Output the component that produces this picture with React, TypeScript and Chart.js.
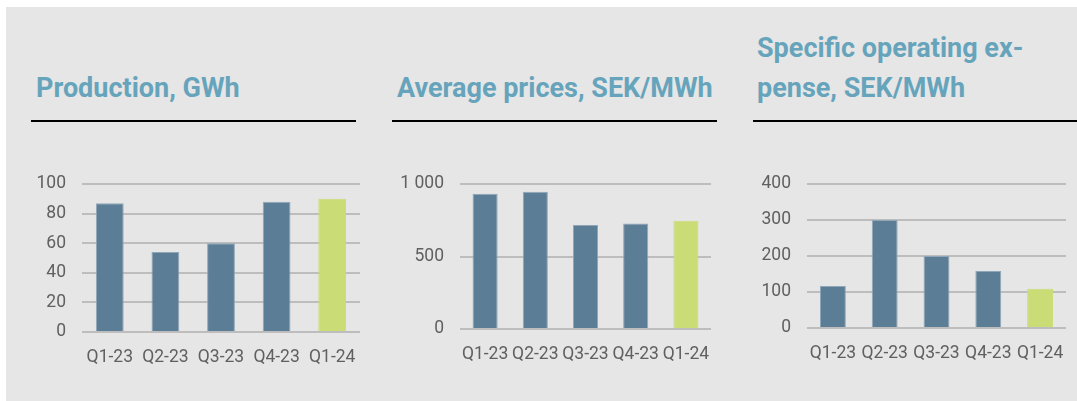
import React, { useEffect, useRef } from "react";
import { Chart, registerables } from "chart.js";

Chart.register(...registerables);

const categories = ["Q1-23", "Q2-23", "Q3-23", "Q4-23", "Q1-24"];
const productionGWh = [87, 54, 60, 88, 90];
const averagePrices = [933, 947, 717, 728, 746];
const operatingExpense = [117, 300, 200, 158, 109];

const productionTicks = [0, 20, 40, 60, 80, 100];
const pricesTicks = [0, 500, 1000];
const expenseTicks = [0, 100, 200, 300, 400];

const titles = ["Production, GWh", "Average prices, SEK/MWh", "Specific operating ex-\npense, SEK/MWh"];

const BLUE = "#5b7d96";
const GREEN = "#cadc75";
const TITLE_COLOR = "#66a4bc";
const TICK_COLOR = "#606060";
const GRID_COLOR = "#bdbdbd";
const FONT = "Roboto, 'Liberation Sans', sans-serif";

const fmtSpace = (v: number) => String(v).replace(/\B(?=(\d{3})+(?!\d))/g, "\u00a0");

type Props = {
  values: number[];
  ticks: number[];
  left: number;
  top: number;
  width: number;
  height: number;
  axisWidth: number;
  padTop: number;
  padRight: number;
  xAxisHeight: number;
};

function BarChart(p: Props) {
  const ref = useRef<HTMLCanvasElement | null>(null);
  useEffect(() => {
    if (!ref.current) return;
    const n = p.values.length;
    const colors = p.values.map((_, i) => (i === n - 1 ? GREEN : BLUE));
    const borders = p.values.map((_, i) => (i === n - 1 ? GREEN : "#8fa6b8"));
    const max = p.ticks[p.ticks.length - 1];
    const chart = new Chart(ref.current, {
      type: "bar",
      data: {
        labels: categories,
        datasets: [
          {
            data: p.values,
            backgroundColor: colors,
            borderColor: borders,
            borderWidth: 1,
            barPercentage: 0.5,
            categoryPercentage: 1,
          },
        ],
      },
      options: {
        animation: false,
        responsive: false,
        maintainAspectRatio: false,
        layout: { padding: { top: p.padTop, right: p.padRight, left: 0, bottom: 0 } },
        plugins: { legend: { display: false }, tooltip: { enabled: false }, title: { display: false } },
        scales: {
          x: {
            grid: { display: false, drawTicks: false },
            border: { display: false },
            ticks: {
              color: TICK_COLOR,
              font: { family: FONT, size: 17.5, weight: 400 as any },
              padding: 15,
              maxRotation: 0,
              autoSkip: false,
            },
            afterFit: (s: any) => {
              s.height = p.xAxisHeight;
              s.paddingLeft = 0;
              s.paddingRight = 0;
            },
          },
          y: {
            min: 0,
            max: max,
            afterBuildTicks: (s: any) => {
              s.ticks = p.ticks.map((v) => ({ value: v }));
            },
            grid: { color: GRID_COLOR, lineWidth: 2, drawTicks: false },
            border: { display: false },
            ticks: {
              color: TICK_COLOR,
              font: { family: FONT, size: 17.5, weight: 400 as any },
              padding: 16,
              callback: (v: any) => fmtSpace(Number(v)),
            },
            afterFit: (s: any) => {
              s.width = p.axisWidth;
              s.paddingTop = 0;
              s.paddingBottom = 0;
            },
          },
        },
      },
    });
    return () => chart.destroy();
  }, []);
  return (
    <canvas
      ref={ref}
      width={p.width}
      height={p.height}
      style={{ position: "absolute", left: p.left, top: p.top, width: p.width, height: p.height }}
    />
  );
}

function Title({ text, left, top }: { text: string; left: number; top: number }) {
  return (
    <div
      style={{
        position: "absolute",
        left,
        top,
        fontFamily: FONT,
        fontWeight: 700,
        fontSize: 27,
        lineHeight: "40px",
        color: TITLE_COLOR,
        whiteSpace: "pre",
      }}
    >
      {text}
    </div>
  );
}

function Rule({ left, width }: { left: number; width: number }) {
  return <div style={{ position: "absolute", left, top: 120, width, height: 2, background: "#000" }} />;
}

export default function App() {
  useEffect(() => {
    document.body.style.margin = "0";
  }, []);
  return (
    <div style={{ position: "absolute", left: 0, top: 0, width: 1077, height: 401, background: "#fff", overflow: "hidden" }}>
      <div style={{ position: "absolute", left: 6, top: 7, width: 1071, height: 394, background: "#e6e6e6" }} />
      <Title text={titles[0]} left={36} top={68} />
      <Title text={titles[1]} left={397} top={68} />
      <Title text={titles[2]} left={757} top={28} />
      <Rule left={31} width={325} />
      <Rule left={392} width={325} />
      <Rule left={753} width={324} />
      <BarChart values={productionGWh} ticks={productionTicks} left={20} top={174} width={345} height={220}
        axisWidth={62} padTop={10} padRight={5} xAxisHeight={62} />
      <BarChart values={averagePrices} ticks={pricesTicks} left={380} top={174} width={336} height={220}
        axisWidth={80} padTop={10} padRight={5} xAxisHeight={65} />
      <BarChart values={operatingExpense} ticks={expenseTicks} left={740} top={174} width={334} height={220}
        axisWidth={67} padTop={10} padRight={8} xAxisHeight={66} />
    </div>
  );
}
